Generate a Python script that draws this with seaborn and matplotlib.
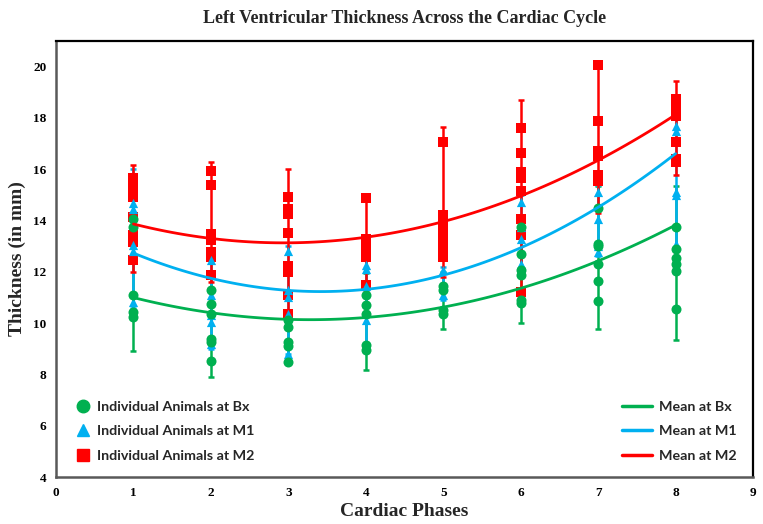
import numpy as np
import pandas as pd
import matplotlib
matplotlib.use("Agg")
import matplotlib.pyplot as plt
from matplotlib.lines import Line2D
import seaborn as sns

# ---------------- data ----------------
phases = [1, 2, 3, 4, 5, 6, 7, 8]

bx_points = [
    [14.07, 13.74, 11.08, 10.43, 10.22],
    [11.28, 10.73, 10.37, 9.40, 9.27, 8.53],
    [10.14, 9.85, 9.27, 9.10, 8.49],
    [11.08, 10.70, 10.37, 9.14, 8.95],
    [11.43, 11.28, 10.50, 10.35],
    [13.74, 12.71, 12.06, 11.86, 10.89, 10.80],
    [14.48, 13.10, 13.00, 12.32, 11.64, 10.86],
    [13.74, 12.90, 12.54, 12.32, 12.02, 10.54],
]
m1_points = [
    [14.69, 14.45, 13.03, 12.80, 10.82],
    [12.45, 11.08, 10.30, 10.05, 9.20],
    [12.81, 11.30, 11.00, 10.37, 9.33, 8.81],
    [12.25, 12.10, 11.43, 10.14, 9.10],
    [12.06, 11.35, 11.08],
    [14.72, 13.74, 13.29, 12.32, 11.99],
    [15.10, 14.07, 13.00, 12.77],
    [17.70, 17.50, 15.10, 15.00, 13.10],
]
m2_points = [
    [15.65, 15.30, 14.91, 14.13, 13.42, 13.16, 12.45],
    [15.95, 15.39, 13.49, 13.23, 12.77, 12.58, 11.86],
    [14.91, 14.46, 14.26, 13.51, 12.21, 11.99, 11.08, 10.35],
    [14.89, 13.29, 12.97, 12.58, 11.47],
    [17.05, 14.20, 13.87, 13.49, 13.23, 12.90, 12.58],
    [17.61, 16.62, 15.88, 15.67, 15.17, 14.07, 13.42, 11.21],
    [20.06, 17.90, 16.73, 16.53, 15.76, 15.56],
    [18.74, 18.48, 18.09, 17.05, 16.40, 16.30],
]

# error bar ends (low / high)
bx_lo = [8.90, 7.90, 8.45, 8.16, 9.79, 10.00, 9.79, 9.33]
bx_hi = [14.90, 11.96, 10.25, 11.94, 12.00, 14.00, 15.35, 15.35]
m1_lo = [10.60, 9.00, 8.80, 9.00, 10.90, 11.80, 12.60, 12.90]
m1_hi = [16.00, 12.90, 13.00, 12.50, 12.20, 15.00, 15.40, 18.00]
m2_lo = [12.00, 11.60, 10.30, 11.30, 11.80, 11.20, 14.30, 15.76]
m2_hi = [16.17, 16.30, 16.02, 14.90, 17.64, 18.70, 20.10, 19.45]

# mean values per phase (trend follows these)
bx_mean = [11.02, 10.37, 10.14, 10.24, 10.63, 11.34, 12.45, 13.81]
m1_mean = [12.71, 11.80, 11.25, 11.30, 11.86, 12.96, 14.52, 16.60]
m2_mean = [13.90, 13.26, 13.16, 13.29, 13.90, 15.10, 16.34, 18.09]

groups = ["Bx", "M1", "M2"]
colors = {"Bx": "#00B050", "M1": "#00B0F0", "M2": "#FF0000"}
markers = {"Bx": "o", "M1": "^", "M2": "s"}
msizes = {"Bx": 52, "M1": 44, "M2": 48}

# ---------------- build tables ----------------
rows = []
for g, pts in zip(groups, [bx_points, m1_points, m2_points]):
    for ph, vals in zip(phases, pts):
        for v in vals:
            rows.append({"phase": ph, "value": v, "group": g})
df = pd.DataFrame(rows)

# ---------------- figure ----------------
sns.set_style("white")
plt.rcParams["font.family"] = ["Liberation Serif", "DejaVu Serif"]

fig = plt.figure(figsize=(7.63, 5.24), dpi=100)
ax = fig.add_axes([56 / 763, 1 - 477 / 524, 697 / 763, 436 / 524])

zo = {"Bx": 2, "M1": 3, "M2": 4}
for g, lo, hi in zip(groups, [bx_lo, m1_lo, m2_lo], [bx_hi, m1_hi, m2_hi]):
    lo = np.array(lo)
    hi = np.array(hi)
    c = (lo + hi) / 2
    ax.errorbar(phases, c, yerr=[c - lo, hi - c], fmt="none",
                ecolor=colors[g], elinewidth=1.8, capsize=2.2, capthick=1.8,
                zorder=zo[g])

for g in ["M2", "M1", "Bx"]:
    sub = df[df["group"] == g]
    sns.scatterplot(data=sub, x="phase", y="value", marker=markers[g],
                    color=colors[g], s=msizes[g], linewidth=0, ax=ax,
                    zorder=5, legend=False)

for g, mv in zip(groups, [bx_mean, m1_mean, m2_mean]):
    sns.regplot(x=np.array(phases, dtype=float), y=np.array(mv), order=2,
                ci=None, scatter=False, ax=ax,
                line_kws={"color": colors[g], "linewidth": 2.0, "zorder": 6})

ax.set_xlim(0, 9)
ax.set_ylim(4, 21)
ax.set_xticks(range(0, 10))
ax.set_yticks(range(4, 21, 2))
ax.tick_params(axis="both", which="major", direction="out", length=4,
               width=1.2, labelsize=9.5, colors="#595959",
               labelcolor="black", pad=3)
for lab in ax.get_xticklabels() + ax.get_yticklabels():
    lab.set_fontweight("bold")

for side in ["left", "bottom"]:
    ax.spines[side].set_color("#595959")
    ax.spines[side].set_linewidth(1.8)
for side in ["top", "right"]:
    ax.spines[side].set_color("black")
    ax.spines[side].set_linewidth(1.6)
    ax.spines[side].set_visible(True)

ax.set_xlabel("Cardiac Phases", fontsize=14, fontweight="bold", labelpad=3)
ax.set_ylabel("Thickness (in mm)", fontsize=14, fontweight="bold", labelpad=5)
ax.set_title("Left Ventricular Thickness Across the Cardiac Cycle",
             fontsize=13, fontweight="bold", pad=13)

legfont = {"family": ["Lato", "DejaVu Sans"], "weight": "bold", "size": 10.3}
pt_handles = [Line2D([], [], linestyle="none", marker=markers[g],
                     color=colors[g], markersize=9 if g != "M1" else 8.5)
              for g in groups]
pt_labels = ["Individual Animals at " + g for g in groups]
leg1 = ax.legend(pt_handles, pt_labels, loc="lower left",
                 bbox_to_anchor=(0.006, 0.002), frameon=False, prop=legfont,
                 labelspacing=0.88, handletextpad=0.4, handlelength=1.2,
                 borderaxespad=0.6)
ax.add_artist(leg1)

ln_handles = [Line2D([], [], color=colors[g], linewidth=2.5) for g in groups]
ln_labels = ["Mean at " + g for g in groups]
ax.legend(ln_handles, ln_labels, loc="lower right",
          bbox_to_anchor=(0.997, 0.002), frameon=False, prop=legfont,
          labelspacing=0.88, handletextpad=0.5, handlelength=2.1,
          borderaxespad=0.6)

fig.savefig("out.png", dpi=100)
